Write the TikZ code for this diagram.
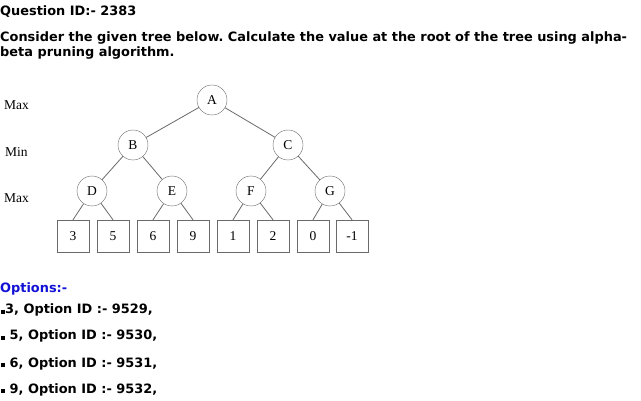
\documentclass[tikz,border=0pt]{standalone}
\usepackage{fontspec}
\setmainfont{Liberation Serif}
\newfontfamily\qfont{DejaVu Sans}
\definecolor{linegray}{HTML}{6A6A6A}
\definecolor{optblue}{HTML}{1212D6}
\frenchspacing
\begin{document}
\begin{tikzpicture}[x=1pt,y=-1pt,
  txt/.style={anchor=base west,inner sep=0pt,font=\qfont\bfseries\fontsize{12.9}{15}\selectfont},
  lvl/.style={anchor=base west,inner sep=0pt,font=\fontsize{13.5}{15}\selectfont},
  state/.style={circle,draw=linegray,minimum size=30pt,inner sep=0pt,font=\fontsize{13.5}{15}\selectfont},
  leaf/.style={rectangle,draw=linegray,minimum size=32pt,inner sep=0pt,font=\fontsize{13.5}{15}\selectfont},
  edge/.style={draw=linegray,line width=0.8pt}]
\useasboundingbox[fill=white] (0,0) rectangle (641,401);
% question text
\node[txt] (qid) at (0,16) {Question ID:- 2383};
\node[txt] (q1) at (0,42) {Consider the given tree below. Calculate the value at the root of the tree using alpha-};
\node[txt] (q2) at (0,57) {beta pruning algorithm.};
% level labels
\node[lvl] (lmax1) at (4,110) {Max};
\node[lvl] (lmin) at (5,157) {Min};
\node[lvl] (lmax2) at (4,203) {Max};
% tree
\node[state] (A) at (212,100) {A};
\node[state] (B) at (133,145) {B};
\node[state] (C) at (288,145) {C};
\node[state] (D) at (92,191) {D};
\node[state] (E) at (172,191) {E};
\node[state] (F) at (251,191) {F};
\node[state] (G) at (330,191) {G};
\node[leaf] (l1) at (73,236) {3};
\node[leaf] (l2) at (113,236) {5};
\node[leaf] (l3) at (153,236) {6};
\node[leaf] (l4) at (193,236) {9};
\node[leaf] (l5) at (233,236) {1};
\node[leaf] (l6) at (273,236) {2};
\node[leaf] (l7) at (313,236) {0};
\node[leaf] (l8) at (352,236) {-1};
\draw[edge] (A) -- (B);
\draw[edge] (A) -- (C);
\draw[edge] (B) -- (D);
\draw[edge] (B) -- (E);
\draw[edge] (C) -- (F);
\draw[edge] (C) -- (G);
\draw[edge] (D) -- (l1.north);
\draw[edge] (D) -- (l2.north);
\draw[edge] (E) -- (l3.north);
\draw[edge] (E) -- (l4.north);
\draw[edge] (F) -- (l5.north);
\draw[edge] (F) -- (l6.north);
\draw[edge] (G) -- (l7.north);
\draw[edge] (G) -- (l8.north);
% options
\node[txt,text=optblue] (opts) at (0,293) {Options:-};
\node[txt] (o1) at (1,314) {\rule{4pt}{4pt}3, Option ID :- 9529,};
\node[txt] (o2) at (1,340) {\rule{4pt}{4pt} 5, Option ID :- 9530,};
\node[txt] (o3) at (1,367) {\rule{4pt}{4pt} 6, Option ID :- 9531,};
\node[txt] (o4) at (1,393) {\rule{4pt}{4pt} 9, Option ID :- 9532,};
\end{tikzpicture}
\end{document}
